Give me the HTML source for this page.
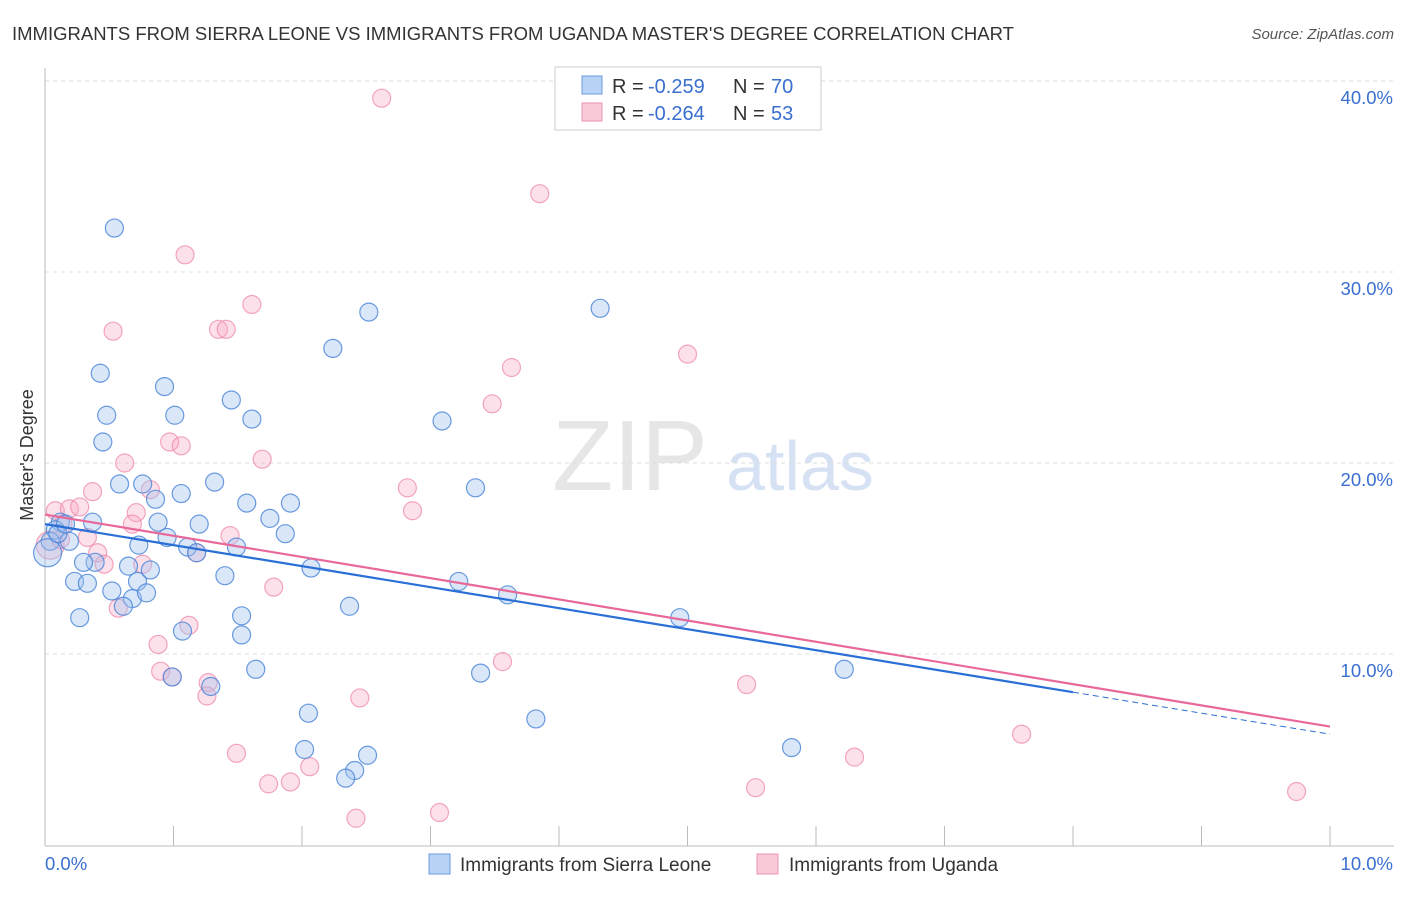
<!DOCTYPE html>
<html><head><meta charset="utf-8"><style>
body{margin:0;background:#fff;font-family:"Liberation Sans",sans-serif}
svg text{font-family:"Liberation Sans",sans-serif}
</style></head><body>
<svg width="1406" height="892" id="c">
<text x="12" y="40" font-size="18.5" fill="#333">IMMIGRANTS FROM SIERRA LEONE VS IMMIGRANTS FROM UGANDA MASTER'S DEGREE CORRELATION CHART</text>
<text x="1394" y="39" font-size="15" fill="#555" font-style="italic" text-anchor="end">Source: ZipAtlas.com</text>
<text x="630" y="490" font-size="100" fill="#e6e6e6" font-family="Liberation Serif" text-anchor="middle">ZIP</text>
<text x="800" y="490" font-size="70" fill="#d6e2f3" text-anchor="middle">atlas</text>
<g id="grid"></g><g id="axes"></g><g id="pts"></g><g id="lines"></g>
<text x="33" y="455" font-size="18" fill="#333" text-anchor="middle" transform="rotate(-90 33 455)">Master's Degree</text>
<g>
<rect x="555" y="67" width="266" height="63" fill="#fff" stroke="#ccc"/>
<rect x="582" y="76" width="20" height="18" fill="#b8d3f5" stroke="#6a9be0"/>
<rect x="582" y="103" width="20" height="18" fill="#fbcad8" stroke="#ec93b0"/>
<text x="612" y="93" font-size="20" fill="#333">R = </text><text x="648" y="93" font-size="20" fill="#3a6fd0">-0.259</text><text x="733" y="93" font-size="20" fill="#333">N = </text><text x="771" y="93" font-size="20" fill="#3a6fd0">70</text>
<text x="612" y="120" font-size="20" fill="#333">R = </text><text x="648" y="120" font-size="20" fill="#3a6fd0">-0.264</text><text x="733" y="120" font-size="20" fill="#333">N = </text><text x="771" y="120" font-size="20" fill="#3a6fd0">53</text>
</g>
<g>
<rect x="429" y="854" width="21" height="20" fill="#b8d3f5" stroke="#6a9be0"/>
<text x="460" y="871" font-size="19" fill="#333">Immigrants from Sierra Leone</text>
<rect x="757" y="854" width="21" height="20" fill="#fbcad8" stroke="#ec93b0"/>
<text x="789" y="871" font-size="19" fill="#333">Immigrants from Uganda</text>
</g>
</svg>
<script>
const xTicks=[0,1,2,3,4,5,6,7,8,9,10];
const yTicks=[10,20,30,40];
const blueX=[0.54,0.43,0.48,0.45,0.93,1.01,1.45,1.61,2.24,2.52,4.32,3.09,3.35,0.58,0.76,0.86,1.06,1.32,1.57,1.91,1.75,1.87,0.37,0.12,0.19,0.08,0.04,0.39,0.30,0.23,0.33,0.52,0.65,0.72,0.68,0.79,0.82,0.73,0.88,0.95,1.2,1.11,1.18,1.49,1.4,0.61,0.27,1.07,1.53,1.53,1.64,0.99,1.29,2.07,2.37,3.22,3.60,4.94,6.22,3.39,2.05,3.82,2.02,2.51,2.41,2.34,5.81,0.02,0.1,0.16];
const blueY=[32.3,24.7,22.5,21.1,24.0,22.5,23.3,22.3,26.0,27.9,28.1,22.2,18.7,18.9,18.9,18.1,18.4,19.0,17.9,17.9,17.1,16.3,16.9,16.9,15.9,16.5,15.9,14.8,14.8,13.8,13.7,13.3,14.6,13.8,12.9,13.2,14.4,15.7,16.9,16.1,16.8,15.6,15.3,15.6,14.1,12.5,11.9,11.2,12.0,11.0,9.2,8.8,8.3,14.5,12.5,13.8,13.1,11.9,9.2,9.0,6.9,6.6,5.0,4.7,3.9,3.5,5.1,15.3,16.3,16.8];
const blueR=[9,9,9,9,9,9,9,9,9,9,9,9,9,9,9,9,9,9,9,9,9,9,9,9,9,9,9,9,9,9,9,9,9,9,9,9,9,9,9,9,9,9,9,9,9,9,9,9,9,9,9,9,9,9,9,9,9,9,9,9,9,9,9,9,9,9,9,14,9,9];
const pinkX=[2.62,3.85,1.09,1.61,0.53,1.35,1.41,5.00,3.63,3.48,0.62,0.97,1.06,1.69,0.37,0.82,2.82,2.86,0.08,0.19,0.27,0.71,0.68,1.44,1.18,0.41,0.33,0.14,0.46,0.76,1.78,0.57,1.12,0.88,0.9,0.99,1.27,1.26,3.56,5.46,2.45,1.49,2.06,1.74,1.91,3.07,2.42,5.53,6.30,7.6,9.74,0.04,0.12];
const pinkY=[39.1,34.1,30.9,28.3,26.9,27.0,27.0,25.7,25.0,23.1,20.0,21.1,20.9,20.2,18.5,18.6,18.7,17.5,17.5,17.6,17.7,17.4,16.8,16.2,15.3,15.3,16.1,16.8,14.7,14.7,13.5,12.4,11.5,10.5,9.1,8.8,8.5,7.8,9.6,8.4,7.7,4.8,4.1,3.2,3.3,1.7,1.4,3.0,4.6,5.8,2.8,15.7,16.0];
const pinkR=[9,9,9,9,9,9,9,9,9,9,9,9,9,9,9,9,9,9,9,9,9,9,9,9,9,9,9,9,9,9,9,9,9,9,9,9,9,9,9,9,9,9,9,9,9,9,9,9,9,9,9,14,9];
const blueTrend=[16.8,8.0]; // y at x=0, x=8
const pinkTrend=[17.3,6.2]; // y at x=0, x=10
const NS="http://www.w3.org/2000/svg";
const X=v=>45+v*128.5, Y=v=>845-v*19.1;
function mk(t,a,p){const e=document.createElementNS(NS,t);for(const k in a)e.setAttribute(k,a[k]);p.appendChild(e);return e;}
const g=document.getElementById('grid'),ax=document.getElementById('axes'),pts=document.getElementById('pts'),ln=document.getElementById('lines');
yTicks.forEach(t=>{
 const l=mk('line',{x1:45,x2:1394,y1:Y(t),y2:Y(t),stroke:'#ddd','stroke-dasharray':'4,4'},g);
 
 
 const tx=mk('text',{x:1393,y:Y(t)+23,'font-size':18.5,fill:'#3a6fd0','text-anchor':'end'},ax);
 tx.textContent=t.toFixed(1)+'%';
 
 
});
const a1=mk('line',{x1:45,x2:45,y1:68,y2:846,stroke:'#bbb'},ax);


const a2=mk('line',{x1:45,x2:1394,y1:846,y2:846,stroke:'#bbb'},ax);


xTicks.forEach(t=>{
 const l=mk('line',{x1:X(t),x2:X(t),y1:826,y2:846,stroke:'#bbb'},ax);
 
 
});
[[0,'start'],[10,'end']].forEach(([t,a])=>{
 const tx=mk('text',{x:X(t)+(t?63:0),y:870,'font-size':18.5,fill:'#3a6fd0','text-anchor':a},ax);
 tx.textContent=t.toFixed(1)+'%';
 
 
});
pinkX.forEach((v,i)=>{
 const c=mk('circle',{cx:X(v),cy:Y(pinkY[i]),r:pinkR[i],fill:'rgba(248,170,195,0.35)',stroke:'rgba(236,130,165,0.7)','stroke-width':1.2},pts);
 
 
});
blueX.forEach((v,i)=>{
 const c=mk('circle',{cx:X(v),cy:Y(blueY[i]),r:blueR[i],fill:'rgba(160,195,240,0.4)',stroke:'rgba(70,130,215,0.8)','stroke-width':1.2},pts);
 
 
});
const slope=(blueTrend[1]-blueTrend[0])/8;
const b1=mk('line',{x1:X(0),y1:Y(blueTrend[0]),x2:X(8),y2:Y(blueTrend[1]),stroke:'#2a6fd6','stroke-width':2.2},ln);


const b2=mk('line',{x1:X(8),y1:Y(blueTrend[1]),x2:X(10),y2:Y(blueTrend[0]+slope*10),stroke:'#2a6fd6','stroke-width':1,'stroke-dasharray':'6,4'},ln);


const p1=mk('line',{x1:X(0),y1:Y(pinkTrend[0]),x2:X(10),y2:Y(pinkTrend[1]),stroke:'#e8689a','stroke-width':2.2},ln);


</script>
</body></html>
